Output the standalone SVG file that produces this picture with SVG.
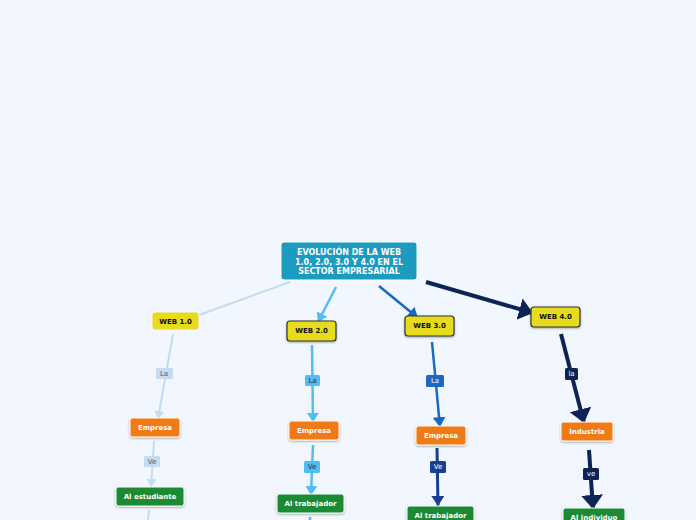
<svg xmlns="http://www.w3.org/2000/svg" width="696" height="520" viewBox="0 0 696 520">
<style>
.t{font-family:"DejaVu Sans",Verdana,sans-serif;font-weight:bold;text-anchor:middle;dominant-baseline:central}
.w{fill:#fff}
.k{fill:#111}
.lbl{font-family:"DejaVu Sans",Verdana,sans-serif;font-size:7px;text-anchor:middle;dominant-baseline:central}
.yel{fill:#e6dc1d;stroke:#333;stroke-width:1.2}
.org{fill:#ef7a12;stroke:#fff;stroke-width:1}
.grn{fill:#1b8a36;stroke:#fff;stroke-width:1}
</style>
<defs>
<filter id="sh" x="-20%" y="-20%" width="140%" height="160%"><feDropShadow dx="0" dy="1" stdDeviation="0.8" flood-color="#000" flood-opacity="0.35"/></filter>
<marker id="a1" markerUnits="userSpaceOnUse" markerWidth="12" markerHeight="12" refX="8" refY="5" orient="auto"><path d="M0,0 L8,5 L0,10 z" fill="#c3dcf0"/></marker>
<marker id="a2" markerUnits="userSpaceOnUse" markerWidth="14" markerHeight="14" refX="9" refY="6" orient="auto"><path d="M0,0 L9,6 L0,12 z" fill="#52bdef"/></marker>
<marker id="a3" markerUnits="userSpaceOnUse" markerWidth="14" markerHeight="14" refX="10" refY="6.5" orient="auto"><path d="M0,0 L10,6.5 L0,13 z" fill="#1769c1"/></marker>
<marker id="a3b" markerUnits="userSpaceOnUse" markerWidth="14" markerHeight="14" refX="10" refY="6.5" orient="auto"><path d="M0,0 L10,6.5 L0,13 z" fill="#173f8f"/></marker>
<marker id="a4" markerUnits="userSpaceOnUse" markerWidth="26" markerHeight="26" refX="14" refY="11" orient="auto"><path d="M0,0 L14,11 L0,22 z" fill="#0c2356"/></marker>
</defs>
<rect width="696" height="520" fill="#f2f6fe"/>
<g id="connectors">
<line x1="290" y1="282" x2="199" y2="315" stroke="#c3dcf0" stroke-width="2"/>
<line x1="336" y1="287" x2="318" y2="322" stroke="#52bdef" stroke-width="2.5" marker-end="url(#a2)"/>
<line x1="379" y1="286" x2="418" y2="318" stroke="#1769c1" stroke-width="2.5" marker-end="url(#a3)"/>
<line x1="426" y1="282" x2="533" y2="313" stroke="#0c2356" stroke-width="4" marker-end="url(#a4)"/>

<line x1="173" y1="334" x2="158" y2="419" stroke="#c3dcf0" stroke-width="2" marker-end="url(#a1)"/>
<line x1="154" y1="441" x2="151" y2="487" stroke="#c3dcf0" stroke-width="2" marker-end="url(#a1)"/>
<line x1="149" y1="510" x2="148" y2="520" stroke="#c3dcf0" stroke-width="2"/>

<line x1="312" y1="345" x2="313" y2="422" stroke="#52bdef" stroke-width="2.5" marker-end="url(#a2)"/>
<line x1="313" y1="445" x2="311" y2="495" stroke="#52bdef" stroke-width="2.5" marker-end="url(#a2)"/>
<line x1="310" y1="517" x2="310" y2="520" stroke="#52bdef" stroke-width="2.5"/>

<line x1="432" y1="342" x2="440" y2="427" stroke="#1769c1" stroke-width="2.5" marker-end="url(#a3)"/>
<line x1="437" y1="448" x2="438" y2="506" stroke="#173f8f" stroke-width="3" marker-end="url(#a3b)"/>

<line x1="561" y1="334" x2="584" y2="423" stroke="#0c2356" stroke-width="4" marker-end="url(#a4)"/>
<line x1="589" y1="450" x2="593" y2="509" stroke="#0c2356" stroke-width="4" marker-end="url(#a4)"/>

<rect x="156" y="368" width="17" height="11" rx="1.5" fill="#c3dcf0"/><text class="lbl" x="164" y="373.5" fill="#556">La</text>
<rect x="144" y="456" width="16" height="11" rx="1.5" fill="#c3dcf0"/><text class="lbl" x="152" y="461.5" fill="#556">Ve</text>
<rect x="305" y="375" width="15" height="11" rx="1.5" fill="#52bdef"/><text class="lbl" x="312.5" y="380.5" fill="#234">La</text>
<rect x="304" y="461" width="16" height="12" rx="1.5" fill="#52bdef"/><text class="lbl" x="312" y="467" fill="#234">Ve</text>
<rect x="426" y="375" width="18" height="12" rx="1.5" fill="#1769c1"/><text class="lbl w" x="435" y="381">La</text>
<rect x="430" y="461" width="16" height="12" rx="1.5" fill="#173f8f"/><text class="lbl w" x="438" y="467">Ve</text>
<rect x="565" y="368" width="13" height="12" rx="1.5" fill="#0c2356"/><text class="lbl w" x="571.5" y="374">la</text>
<rect x="583" y="468" width="16" height="12" rx="1.5" fill="#0c2356"/><text class="lbl w" x="591" y="474">ve</text>
</g>
<g id="central">
<rect x="281" y="242" width="136" height="38" rx="3" fill="#1a9bbf" stroke="#fff" stroke-width="1"/>
<text class="t w" font-size="8" x="349" y="252.5">EVOLUCIÓN DE LA WEB</text>
<text class="t w" font-size="8" x="349" y="262">1.0, 2.0, 3.0 Y 4.0 EN EL</text>
<text class="t w" font-size="8" x="349" y="271.5">SECTOR EMPRESARIAL</text>
</g>
<g id="web10">
<rect x="152" y="312" width="47" height="18" rx="3" fill="#e6dc1d" stroke="#f2f6fe" stroke-width="1"/>
<text class="t k" font-size="7" x="175.5" y="321.5">WEB 1.0</text>
</g>
<g id="web20">
<rect x="287" y="321" width="49" height="20" rx="3" class="yel" filter="url(#sh)"/>
<text class="t k" font-size="7" x="311.5" y="331">WEB 2.0</text>
</g>
<g id="web30">
<rect x="405" y="316" width="49" height="20" rx="3" class="yel" filter="url(#sh)"/>
<text class="t k" font-size="7" x="429.5" y="326">WEB 3.0</text>
</g>
<g id="web40">
<rect x="531" y="307" width="49" height="20" rx="3" class="yel" filter="url(#sh)"/>
<text class="t k" font-size="7" x="555.5" y="317">WEB 4.0</text>
</g>
<g id="empresa1">
<rect x="130" y="418" width="50" height="19" rx="2.5" class="org" filter="url(#sh)"/>
<text class="t w" font-size="7" x="155" y="427.5">Empresa</text>
</g>
<g id="empresa2">
<rect x="289" y="421" width="50" height="19" rx="2.5" class="org" filter="url(#sh)"/>
<text class="t w" font-size="7" x="314" y="430.5">Empresa</text>
</g>
<g id="empresa3">
<rect x="416" y="426" width="50" height="19" rx="2.5" class="org" filter="url(#sh)"/>
<text class="t w" font-size="7" x="441" y="435.5">Empresa</text>
</g>
<g id="industria">
<rect x="561" y="422" width="52" height="19" rx="2.5" class="org" filter="url(#sh)"/>
<text class="t w" font-size="7" x="587" y="431.5">Industria</text>
</g>
<g id="estudiante">
<rect x="116" y="487" width="68" height="19" rx="2.5" class="grn" filter="url(#sh)"/>
<text class="t w" font-size="7" x="150" y="496.5">Al estudiante</text>
</g>
<g id="trabajador2">
<rect x="277" y="494" width="67" height="19" rx="2.5" class="grn" filter="url(#sh)"/>
<text class="t w" font-size="7" x="310.5" y="503.5">Al trabajador</text>
</g>
<g id="trabajador3">
<rect x="407" y="506" width="67" height="19" rx="2.5" class="grn" filter="url(#sh)"/>
<text class="t w" font-size="7" x="440.5" y="515.5">Al trabajador</text>
</g>
<g id="individuo">
<rect x="563" y="508" width="62" height="19" rx="2.5" class="grn" filter="url(#sh)"/>
<text class="t w" font-size="7" x="594" y="517.5">Al individuo</text>
</g>
</svg>
